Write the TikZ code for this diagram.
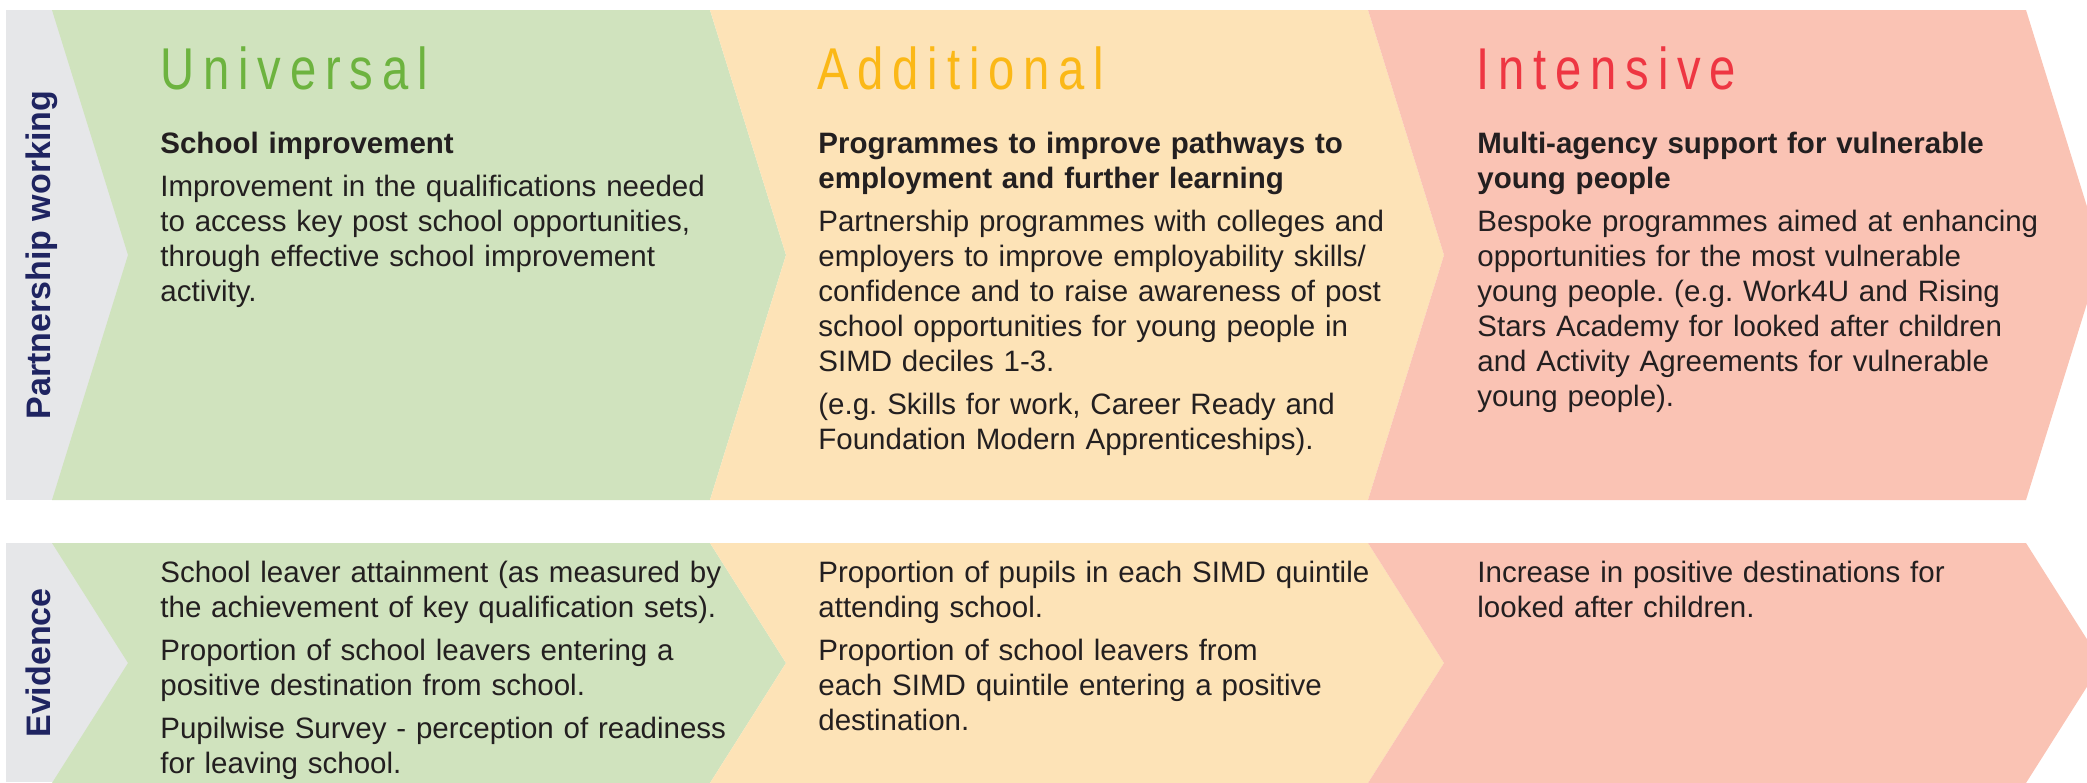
\documentclass[tikz,border=0pt]{standalone}
\usepackage{fontspec}
\setmainfont{Liberation Sans}
\newfontfamily\titlefont[FakeStretch=0.8,LetterSpace=15]{Liberation Sans}
\usepackage{xcolor}
\definecolor{universal}{RGB}{109,179,63}
\definecolor{additional}{RGB}{251,184,23}
\definecolor{intensive}{RGB}{238,54,66}
\definecolor{universal_bg}{RGB}{208,227,190}
\definecolor{additional_bg}{RGB}{253,227,183}
\definecolor{intensive_bg}{RGB}{250,195,180}
\definecolor{side_bg}{RGB}{230,231,233}
\definecolor{side_text}{RGB}{31,36,97}
\definecolor{body_text}{RGB}{35,31,32}
\frenchspacing

\tikzset{
  title/.style = {anchor=base west, inner sep=0pt, font=\titlefont\fontsize{29.5pt}{32pt}\selectfont},
  coltext/.style = {anchor=base west, inner sep=0pt, text width=300pt, align=left,
                    text=body_text, font=\fontsize{14.75pt}{17.5pt}\selectfont},
  sidelabel/.style = {anchor=base, rotate=90, inner sep=0pt, text=side_text,
                      font=\bfseries\fontsize{17pt}{20pt}\selectfont}
}

\begin{document}
\begin{tikzpicture}[x=0.5pt, y=-0.5pt]
            \useasboundingbox (0,0) rectangle (2087,782);
            \clip (0,0) rectangle (2087,782);
            \fill[side_bg] (6,10) rectangle (140,500);
            \fill[side_bg] (6,543) rectangle (140,782);
            \foreach \i/\c in {0/universal_bg, 1/additional_bg, 2/intensive_bg} {
              \fill[\c] ({52+658*\i},10) -- ++(658,0) -- ++(76,245) -- ++(-76,245)
                -- ++(-658,0) -- ++(76,-245) -- cycle;
              \fill[\c] ({52+658*\i},543) -- ++(658,0) -- ++(76,120) -- ++(-76,120)
                -- ++(-658,0) -- ++(76,-120) -- cycle;
            }

            \node[sidelabel] (partnership) at (50,255) {Partnership working};
            \node[sidelabel] (evidence) at (50,663) {Evidence};

            \node[title, text=universal] (universal_title) at (160,89) {Universal};
            \node[title, text=additional] (additional_title) at (817,89) {Additional};
            \node[title, text=intensive] (intensive_title) at (1476,89) {Intensive};

            \node[coltext] (universal_work) at (160,153)
              {\textbf{School improvement}\\[4pt]
               Improvement in the qualifications needed\\
               to access key post school opportunities,\\
               through effective school improvement\\
               activity.};
            \node[coltext] (additional_work) at (818,153)
              {\textbf{Programmes to improve pathways to}\\
               \textbf{employment and further learning}\\[4pt]
               Partnership programmes with colleges and\\
               employers to improve employability skills/\\
               confidence and to raise awareness of post\\
               school opportunities for young people in\\
               SIMD deciles 1-3.\\[4pt]
               (e.g. Skills for work, Career Ready and\\
               Foundation Modern Apprenticeships).};
            \node[coltext] (intensive_work) at (1477,153)
              {\textbf{Multi-agency support for vulnerable}\\
               \textbf{young people}\\[4pt]
               Bespoke programmes aimed at enhancing\\
               opportunities for the most vulnerable\\
               young people. (e.g. Work4U and Rising\\
               Stars Academy for looked after children\\
               and Activity Agreements for vulnerable\\
               young people).};

            \node[coltext] (universal_evidence) at (160,582)
              {School leaver attainment (as measured by\\
               the achievement of key qualification sets).\\[4pt]
               Proportion of school leavers entering a\\
               positive destination from school.\\[4pt]
               Pupilwise Survey - perception of readiness\\
               for leaving school.};
            \node[coltext] (additional_evidence) at (818,582)
              {Proportion of pupils in each SIMD quintile\\
               attending school.\\[4pt]
               Proportion of school leavers from\\
               each SIMD quintile entering a positive\\
               destination.};
            \node[coltext] (intensive_evidence) at (1477,582)
              {Increase in positive destinations for\\
               looked after children.};
        \end{tikzpicture}
\end{document}
